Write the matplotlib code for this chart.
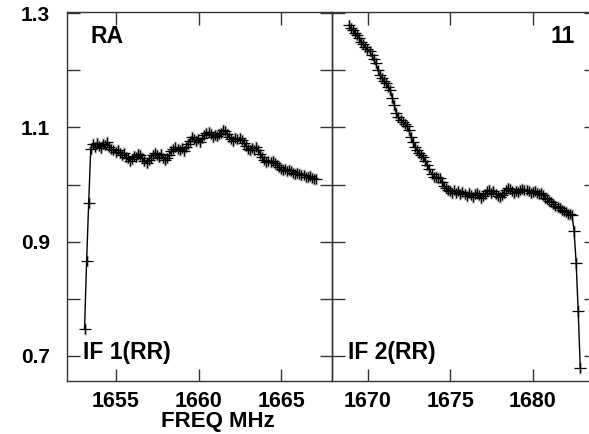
import numpy as np
import matplotlib
matplotlib.use("Agg")
import matplotlib.pyplot as plt
from matplotlib.ticker import MultipleLocator, FixedLocator

plt.rcParams['font.family'] = ['Liberation Sans', 'DejaVu Sans']
plt.rcParams['font.weight'] = 'bold'

# channel frequencies (MHz): first channel + channel width
if1_start = 1653.1
if2_start = 1668.86
chan_width = 0.125

# IF 1 (RR) amplitude per channel
if1_amp = [
    0.747, 0.866, 0.968, 1.062, 1.071, 1.066, 1.073, 1.068, 1.064, 1.071,
    1.069, 1.074, 1.066, 1.063, 1.060, 1.057, 1.061, 1.055, 1.052, 1.056,
    1.049, 1.046, 1.042, 1.045, 1.050, 1.048, 1.054, 1.051, 1.046, 1.041,
    1.038, 1.043, 1.047, 1.051, 1.055, 1.052, 1.049, 1.053, 1.046, 1.043,
    1.047, 1.052, 1.058, 1.062, 1.066, 1.063, 1.060, 1.064, 1.058, 1.066,
    1.071, 1.077, 1.083, 1.080, 1.076, 1.079, 1.075, 1.081, 1.086, 1.090,
    1.092, 1.088, 1.084, 1.087, 1.085, 1.089, 1.091, 1.095, 1.093, 1.088,
    1.083, 1.080, 1.077, 1.081, 1.079, 1.082, 1.078, 1.073, 1.068, 1.063,
    1.060, 1.064, 1.061, 1.065, 1.060, 1.054, 1.048, 1.043, 1.040, 1.042,
    1.039, 1.041, 1.038, 1.034, 1.030, 1.027, 1.025, 1.028, 1.024, 1.026,
    1.023, 1.021, 1.019, 1.021, 1.018, 1.016, 1.017, 1.014, 1.013, 1.015,
    1.011, 1.009, 1.010,
]

# IF 2 (RR) amplitude per channel
if2_amp = [
    1.279, 1.274, 1.270, 1.266, 1.261, 1.256, 1.250, 1.246, 1.241, 1.237,
    1.233, 1.226, 1.219, 1.212, 1.201, 1.191, 1.186, 1.181, 1.177, 1.171,
    1.165, 1.152, 1.139, 1.125, 1.118, 1.113, 1.109, 1.106, 1.102, 1.096,
    1.084, 1.075, 1.066, 1.060, 1.056, 1.052, 1.048, 1.041, 1.034, 1.027,
    1.019, 1.014, 1.013, 1.012, 1.011, 1.005, 0.998, 0.994, 0.991, 0.988,
    0.986, 0.990, 0.985, 0.988, 0.984, 0.987, 0.983, 0.980, 0.985, 0.981,
    0.978, 0.983, 0.986, 0.982, 0.977, 0.980, 0.984, 0.988, 0.990, 0.986,
    0.988, 0.984, 0.980, 0.978, 0.981, 0.986, 0.991, 0.994, 0.992, 0.988,
    0.985, 0.989, 0.987, 0.990, 0.993, 0.990, 0.991, 0.988, 0.985, 0.987,
    0.989, 0.986, 0.984, 0.985, 0.981, 0.977, 0.974, 0.971, 0.969, 0.966,
    0.963, 0.961, 0.958, 0.956, 0.953, 0.951, 0.949, 0.948, 0.946, 0.919,
    0.863, 0.779, 0.679,
]

if1_freq = if1_start + chan_width * np.arange(len(if1_amp))
if2_freq = if2_start + chan_width * np.arange(len(if2_amp))

W, H = 589, 434
fig = plt.figure(figsize=(W / 100, H / 100), dpi=100)

# panel boxes in pixels (left, top, right, bottom)
x0, xm, x1 = 66.7, 331.5, 596.3
ytop, ybot = 12, 381
ax1 = fig.add_axes([x0 / W, (H - ybot) / H, (xm - x0) / W, (ybot - ytop) / H])
ax2 = fig.add_axes([xm / W, (H - ybot) / H, (x1 - xm) / W, (ybot - ytop) / H])

panels = [
    (ax1, if1_freq, if1_amp, (1652.02, 1668.04), "RA", "IF 1(RR)"),
    (ax2, if2_freq, if2_amp, (1667.81, 1683.83), "11", "IF 2(RR)"),
]

for ax, f, a, xl, top_txt, bot_txt in panels:
    # soft grey halo like the reference's smeared crosses
    ax.plot(f, a, ls='none', marker='|', ms=8, mew=2.2, color='#9a9a9a',
            alpha=0.5, zorder=1)
    ax.plot(f, a, color='black', lw=1.0, zorder=2)
    ax.plot(f, a, ls='none', marker='_', ms=8.5, mew=0.9, color='black', zorder=3)
    ax.plot(f, a, ls='none', marker='|', ms=6.5, mew=0.9, color='black', zorder=3)
    ax.set_xlim(*xl)
    ax.set_ylim(0.656, 1.302)
    ax.xaxis.set_major_locator(MultipleLocator(5))
    ax.yaxis.set_major_locator(FixedLocator([0.7, 0.9, 1.1, 1.3]))
    ax.yaxis.set_minor_locator(FixedLocator([0.8, 1.0, 1.2]))
    ax.tick_params(which='both', direction='in', length=9, width=1,
                   top=True, right=True, color='#333333')
    ax.tick_params(axis='x', labelsize=15.5, pad=7)
    ax.tick_params(axis='y', labelsize=15, pad=12)
    for s in ax.spines.values():
        s.set_color('#333333')
        s.set_linewidth(1.0)
    ax.set_facecolor('none')

ax2.tick_params(axis='y', labelleft=False)

ax1.text(0.088, 0.934, "RA", transform=ax1.transAxes, fontsize=16.5,
         fontweight='bold', ha='left', va='center')
ax1.text(0.061, 0.076, "IF 1(RR)", transform=ax1.transAxes, fontsize=16.5,
         fontweight='bold', ha='left', va='center')
ax2.text(0.918, 0.934, "11", transform=ax2.transAxes, fontsize=16.5,
         fontweight='bold', ha='right', va='center')
ax2.text(0.061, 0.076, "IF 2(RR)", transform=ax2.transAxes, fontsize=16.5,
         fontweight='bold', ha='left', va='center')

fig.text(218 / W, (H - 421.5) / H, "FREQ MHz", fontsize=16,
         fontweight='bold', ha='center', va='center')

fig.savefig("out.png", dpi=100)
